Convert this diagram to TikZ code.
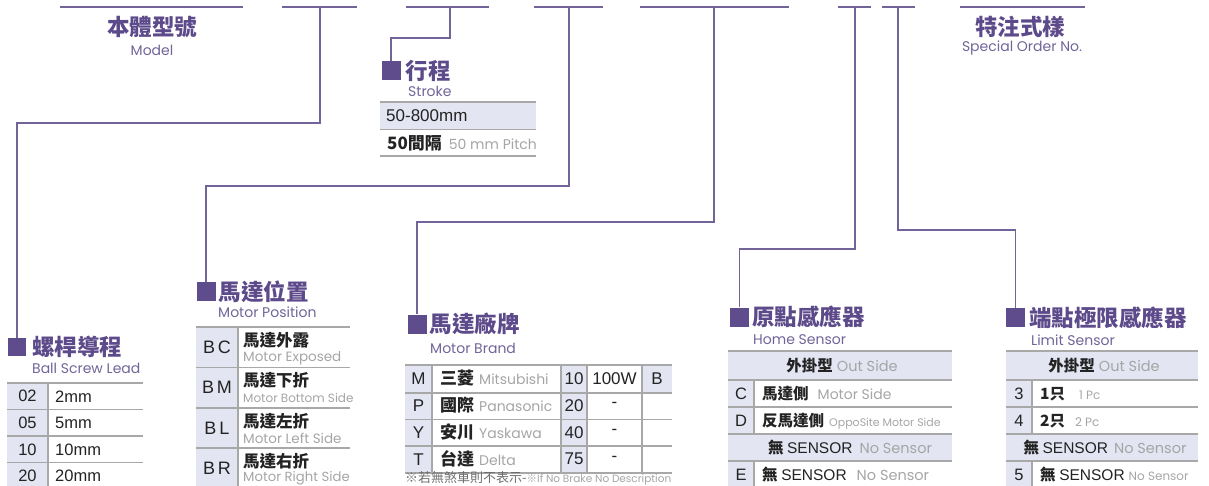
\documentclass[tikz,border=0pt]{standalone}
\usepackage{fontspec}
\setmainfont{Liberation Sans}
\newfontfamily\cjk{Noto Sans CJK TC}
\newfontfamily\gothic{Poppins}
\usepackage{tikz}
\usetikzlibrary{positioning}

\definecolor{linecol}{RGB}{114,100,152}
\definecolor{titlecol}{RGB}{92,74,138}
\definecolor{subcol}{RGB}{112,100,152}
\definecolor{markcol}{RGB}{94,76,140}
\definecolor{cellfill}{RGB}{227,229,242}
\definecolor{rulecol}{RGB}{168,168,168}
\definecolor{greytxt}{RGB}{165,165,165}
\definecolor{codetxt}{RGB}{35,35,35}
\definecolor{notetxt}{RGB}{110,110,110}

\newcommand{\engrey}[2][12.5]{{\gothic\mdseries\fontsize{#1}{#1}\selectfont\color{greytxt}#2}}

\tikzset{
  bar/.style={draw=linecol, line width=1.6pt},
  conn/.style={draw=linecol, line width=1.4pt},
  marker/.style={fill=markcol, minimum size=19pt, inner sep=0pt},
  title/.style={font=\cjk\bfseries\fontsize{22.5}{24}\selectfont, text=titlecol, inner sep=0pt},
  subtitle/.style={font=\gothic\fontsize{14}{15}\selectfont, text=subcol, inner sep=0pt},
  rule/.style={draw=rulecol, line width=1.2pt},
  tint/.style={fill=cellfill},
  code/.style={font=\fontsize{16.5}{17}\selectfont, text=codetxt, inner sep=0pt},
  cell/.style={font=\cjk\bfseries\fontsize{15.5}{17}\selectfont, text=codetxt, inner sep=0pt},
}

\begin{document}
\begin{tikzpicture}[x=1pt, y=-1pt]
  \useasboundingbox (0,0) rectangle (1209,486);

  % Top bars of the model code
  \draw[bar] (60,7) -- (243,7);
  \draw[bar] (282,7) -- (357,7);
  \draw[bar] (406,7) -- (489,7);
  \draw[bar] (534,7) -- (603,7);
  \draw[bar] (640,7) -- (789,7);
  \draw[bar] (838,7) -- (871,7);
  \draw[bar] (882,7) -- (915,7);
  \draw[bar] (960,7) -- (1085,7);
  \coordinate (tLead) at (320,7);
  \coordinate (tStroke) at (450,7);
  \coordinate (tPos) at (569,7);
  \coordinate (tBrand) at (714,7);
  \coordinate (tHome) at (855,7);
  \coordinate (tLimit) at (898,7);

  % Header texts
  \node[title] (model) at (152,27) {本體型號};
  \node[subtitle] (modelEn) at (152,50) {Model};
  \node[title] (special) at (1020,27) {特注式樣};
  \node[subtitle] (specialEn) at (1022,48) {Special Order No.};

  % Group markers and titles
  \node[marker, minimum size=18pt] (mkLead) at (17,347) {};
  \node[title, anchor=west, right=6pt of mkLead] (ttLead) {螺桿導程};
  \node[subtitle, anchor=west] (stLead) at (32,368) {Ball Screw Lead};

  \node[marker] (mkStroke) at (391,70.5) {};
  \node[title, anchor=west, right=5pt of mkStroke] (ttStroke) {行程};
  \node[subtitle, anchor=west] (stStroke) at (408,91) {Stroke};

  \node[marker] (mkPos) at (206,291.5) {};
  \node[title, anchor=west, right=3pt of mkPos] (ttPos) {馬達位置};
  \node[subtitle, anchor=west] (stPos) at (218,312) {Motor Position};

  \node[marker] (mkBrand) at (417,324) {};
  \node[title, anchor=west, right=3pt of mkBrand] (ttBrand) {馬達廠牌};
  \node[subtitle, anchor=west] (stBrand) at (430,348) {Motor Brand};

  \node[marker] (mkHome) at (739.5,317) {};
  \node[title, anchor=west, right=3pt of mkHome] (ttHome) {原點感應器};
  \node[subtitle, anchor=west] (stHome) at (753,340) {Home Sensor};

  \node[marker] (mkLimit) at (1015.5,317.5) {};
  \node[title, anchor=west, right=4pt of mkLimit] (ttLimit) {端點極限感應器};
  \node[subtitle, anchor=west] (stLimit) at (1031,340) {Limit Sensor};

  % Connectors from the bars down to the groups
  \draw[conn] (tLead) -- ++(0,116) -| (mkLead.north);
  \draw[conn] (tStroke) -- ++(0,31) -| (mkStroke.north);
  \draw[conn] (tPos) -- ++(0,179) -| (mkPos.north);
  \draw[conn] (tBrand) -- ++(0,215) -| (mkBrand.north);
  \draw[conn] (tHome) -- ++(0,242) -| (mkHome.north);
  \draw[conn] (tLimit) -- ++(0,223) -| (mkLimit.north);

  % Stroke table
  \fill[tint] (380,102) rectangle (536,129.5);
  \foreach \y in {102,129.5,156} \draw[rule] (380,\y) -- (536,\y);
  \node[code, font=\fontsize{17}{17}\selectfont, anchor=west] (st1) at (386,116) {50-800mm};
  \node[cell, font=\cjk\bfseries\fontsize{17}{17}\selectfont, anchor=west] (st2) at (387,143) {50間隔\hspace{7pt}\engrey[14]{50 mm Pitch}};

  % Ball screw lead table
  \fill[tint] (7,383) rectangle (48,488);
  \foreach \y in {383,409.5,436,462.5} \draw[rule] (7,\y) -- (143,\y);
  \draw[rule] (48,383) -- (48,488);
  \foreach \c/\v [count=\i] in {02/2mm,05/5mm,10/10mm,20/20mm} {
    \node[code] (ldc\i) at (27.5,{383+26.6*\i-13.3}) {\c};
    \node[code, anchor=west] (ldv\i) at (55,{383+26.6*\i-13.3}) {\v};
  }

  % Motor position table
  \fill[tint] (196,327) rectangle (238,488);
  \foreach \y in {327,367.5,408,448} \draw[rule] (196,\y) -- (350,\y);
  \draw[rule] (238,327) -- (238,488);
  \foreach \c/\t/\e/\s [count=\i] in {B\,C/馬達外露/Motor Exposed/13.5,B\,M/馬達下折/Motor Bottom Side/12,
      B\,L/馬達左折/Motor Left Side/13.5,B\,R/馬達右折/Motor Right Side/13.2} {
    \node[code, font=\fontsize{18}{18}\selectfont] (pc\i) at (217,{327+40.3*\i-20}) {\c};
    \node[cell, font=\cjk\bfseries\fontsize{16.5}{17}\selectfont, anchor=west] (pt\i) at (243,{327+40.3*\i-27}) {\t};
    \node[anchor=west, inner sep=0pt] (pe\i) at (243,{327+40.3*\i-9.5}) {\engrey[\s]{\e}};
  }

  % Motor brand table
  \fill[tint] (405,365) rectangle (432,473);
  \fill[tint] (561,365) rectangle (587,473);
  \fill[tint] (642,365) rectangle (672,393);
  \foreach \y in {365,393,419.5,446,473} \draw[rule] (405,\y) -- (672,\y);
  \foreach \x in {432,561,587,642} \draw[rule] (\x,365) -- (\x,473);
  \foreach \c/\t/\e/\n/\w [count=\i] in {M/三菱/Mitsubishi/10/100W,P/國際/Panasonic/20/-,
      Y/安川/Yaskawa/40/-,T/台達/Delta/75/-} {
    \node[code, font=\fontsize{17}{17}\selectfont] (bc\i) at (418.5,{365+26.9*\i-13.4}) {\c};
    \node[cell, anchor=west, font=\cjk\bfseries\fontsize{17}{17}\selectfont] (bt\i) at (440,{365+26.9*\i-13.4}) {\t\hspace{5pt}\engrey[14]{\e}};
    \node[code, font=\fontsize{17}{17}\selectfont] (bn\i) at (574,{365+26.9*\i-13.4}) {\n};
    \node[code, font=\fontsize{17}{17}\selectfont] (bw\i) at (614.5,{365+26.9*\i-13.4}) {\w};
  }
  \node[code, font=\fontsize{17}{17}\selectfont] (brake) at (657,379) {B};
  \node[anchor=west, inner sep=0pt, text=notetxt] (note) at (405,478)
    {\cjk\fontsize{13}{13}\selectfont ※若無煞車則不表示-{\fontsize{10.5}{10.5}\selectfont\color{greytxt}※\gothic If No Brake No Description}};

  % Home sensor table
  \fill[tint] (728,351) rectangle (952,380);
  \fill[tint] (728,434) rectangle (952,461);
  \fill[tint] (728,380) rectangle (754,434);
  \fill[tint] (728,461) rectangle (754,488);
  \foreach \y in {351,380,407,434,461} \draw[rule] (728,\y) -- (952,\y);
  \draw[rule] (754,380) -- (754,434);
  \draw[rule] (754,461) -- (754,488);
  \node[cell] (hs1) at (842,366) {外掛型\hspace{4pt}\engrey[14.5]{Out Side}};
  \node[code] (hc2) at (741,394) {C};
  \node[cell, anchor=west] (hs2) at (762,394) {馬達側\hspace{9pt}\engrey[14]{Motor Side}};
  \node[code] (hc3) at (741,421) {D};
  \node[cell, anchor=west] (hs3) at (762,421) {反馬達側\hspace{5pt}\engrey[11]{OppoSite Motor Side}};
  \node[cell] (hs4) at (850,448) {無 {\rmfamily\mdseries SENSOR}\hspace{7pt}\engrey[14.5]{No Sensor}};
  \node[code] (hc5) at (741,475) {E};
  \node[cell, anchor=west] (hs5) at (762,475) {無 {\rmfamily\mdseries SENSOR}\hspace{10pt}\engrey[14.5]{No Sensor}};

  % Limit sensor table
  \fill[tint] (1006,351) rectangle (1198,380);
  \fill[tint] (1006,434) rectangle (1198,461);
  \fill[tint] (1006,380) rectangle (1032,434);
  \fill[tint] (1006,461) rectangle (1032,488);
  \foreach \y in {351,380,407,434,461} \draw[rule] (1006,\y) -- (1198,\y);
  \draw[rule] (1032,380) -- (1032,434);
  \draw[rule] (1032,461) -- (1032,488);
  \node[cell] (ls1) at (1104,366) {外掛型\hspace{4pt}\engrey[14.5]{Out Side}};
  \node[code] (lc2) at (1019,394) {3};
  \node[cell, anchor=west] (ls2) at (1040,394) {1只\hspace{14pt}\engrey[12]{1 Pc}};
  \node[code] (lc3) at (1019,421) {4};
  \node[cell, anchor=west] (ls3) at (1040,421) {2只\hspace{10pt}\engrey[12]{2 Pc}};
  \node[cell] (ls4) at (1105,448) {無 {\rmfamily\mdseries SENSOR}\hspace{6pt}\engrey[14.5]{No Sensor}};
  \node[code] (lc5) at (1019,475) {5};
  \node[cell, anchor=west] (ls5) at (1040,475) {無 {\rmfamily\mdseries SENSOR}\hspace{4pt}\engrey[12]{No Sensor}};
\end{tikzpicture}
\end{document}
